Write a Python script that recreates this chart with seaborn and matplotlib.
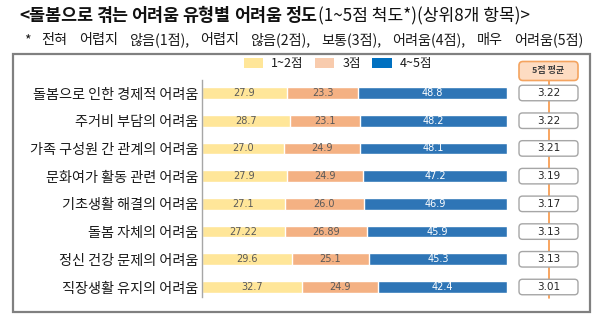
import matplotlib
matplotlib.use("Agg")
import matplotlib.pyplot as plt
from matplotlib.patches import Rectangle, FancyBboxPatch, Patch
import pandas as pd
import seaborn as sns

sns.set_theme(style="white")
plt.rcParams["font.family"] = ["Noto Sans CJK KR", "DejaVu Sans"]

# 돌봄 어려움 유형 (상위 8개)
categories = [
    "돌봄으로 인한 경제적 어려움",
    "주거비 부담의 어려움",
    "가족 구성원 간 관계의 어려움",
    "문화여가 활동 관련 어려움",
    "기초생활 해결의 어려움",
    "돌봄 자체의 어려움",
    "정신 건강 문제의 어려움",
    "직장생활 유지의 어려움",
]
# 응답 비율(%)
score_1_2 = ["27.9", "28.7", "27.0", "27.9", "27.1", "27.22", "29.6", "32.7"]
score_3 = ["23.3", "23.1", "24.9", "24.9", "26.0", "26.89", "25.1", "24.9"]
score_4_5 = ["48.8", "48.2", "48.1", "47.2", "46.9", "45.9", "45.3", "42.4"]
# 5점 평균
mean_score = [3.22, 3.22, 3.21, 3.19, 3.17, 3.13, 3.13, 3.01]

segment_names = ["1~2점", "3점", "4~5점"]
segment_colors = ["#FFE699", "#F4B183", "#2E75B6"]
legend_colors = ["#FFE699", "#F8CBAD", "#0070C0"]
text_colors = ["#595959", "#595959", "white"]

segments = [score_1_2, score_3, score_4_5]

title_main = "<돌봄으로 겪는 어려움 유형별 어려움 정도"
title_tail = "(1~5점 척도*)(상위8개 항목)>"
note = "* 전혀 어렵지 않음(1점), 어렵지 않음(2점), 보통(3점), 어려움(4점), 매우 어려움(5점)"

W, H = 600, 324
fig = plt.figure(figsize=(W / 100, H / 100), dpi=100)
renderer = fig.canvas.get_renderer()


def fx(px):
    return px / W


def fy(py):
    return 1 - py / H


def spread_words(text, x0, x1, y, **kw):
    """Lay the words of a line out between x0 and x1 (px) with equal gaps."""
    words = text.split(" ")
    items = [fig.text(0, fy(y), w, va="center", ha="left", **kw) for w in words]
    widths = [t.get_window_extent(renderer).width for t in items]
    gap = (x1 - x0 - sum(widths)) / max(len(words) - 1, 1)
    x = x0
    for t, w in zip(items, widths):
        t.set_x(fx(x))
        x += w + gap
    return x - gap


title_end = spread_words(title_main, 19, 317, 16, fontsize=12.5, fontweight="bold",
                         color="#111111")
fig.text(fx(title_end + 1), fy(16.5), title_tail, fontsize=12.3, color="#111111",
         va="center", ha="left")
spread_words(note, 24, 583, 40, fontsize=10.2, color="#1a1a1a")

# outer frame
fig.patches.append(Rectangle((fx(13), fy(312)), fx(590 - 13), (312 - 54) / H,
                             transform=fig.transFigure, fill=False,
                             edgecolor="#808080", linewidth=1.6))

# stacked bar axes
row_top, row_bottom = 93, 287
step = (row_bottom - row_top) / 7
ax_top = row_top - step / 2
ax_bot = row_bottom + step / 2
ax = fig.add_axes([fx(202), fy(ax_bot), fx(507 - 202), (ax_bot - ax_top) / H])

rows = []
for i, cat in enumerate(categories):
    cum = 0.0
    for name, seg in zip(segment_names, segments):
        v = float(seg[i])
        rows.append({"category": cat, "segment": name, "start": cum,
                     "end": cum + v, "value": seg[i]})
        cum += v
df = pd.DataFrame(rows)

# draw the widest (cumulative) segment first so shorter ones sit on top
for name, color in reversed(list(zip(segment_names, segment_colors))):
    sub = df[df["segment"] == name]
    sns.barplot(data=sub, x="end", y="category", order=categories, color=color,
                orient="h", width=0.42, edgecolor="white", linewidth=1.0,
                saturation=1, ax=ax)

for i, r in df.iterrows():
    yi = categories.index(r["category"])
    k = segment_names.index(r["segment"])
    ax.text((r["start"] + r["end"]) / 2, yi, r["value"], ha="center", va="center",
            fontsize=7, color=text_colors[k], family=["DejaVu Sans"])

ax.set_xlim(0, 100)
ax.set_ylim(len(categories) - 0.5, -0.5)
ax.set_xlabel("")
ax.set_ylabel("")
ax.set_xticks([])
for s in ["top", "right", "bottom"]:
    ax.spines[s].set_visible(False)
ax.spines["left"].set_color("#A6A6A6")
ax.spines["left"].set_linewidth(1.0)
ax.spines["left"].set_bounds(-0.48, 7.35)
ax.tick_params(axis="y", length=0, pad=2.5, labelsize=10.2, labelcolor="#1a1a1a")
ax.set_facecolor("none")

handles = [Patch(facecolor=c, edgecolor="none") for c in legend_colors]
fig.legend(handles, segment_names, loc="center", bbox_to_anchor=(fx(338), fy(64)),
           ncol=3, frameon=False, fontsize=9, handlelength=1.55, handleheight=0.8,
           handletextpad=0.65, columnspacing=0.9, borderpad=0, labelcolor="#1a1a1a")

# mean score column
mx = fig.add_axes([fx(519), fy(ax_bot), fx(578 - 519), (ax_bot - ax_top) / H],
                  sharey=ax)
mx.set_xlim(0, 1)
mx.axis("off")
px_x = 1 / 59
px_y = 1 / step
aspect = px_y / px_x
mx.plot([0.5, 0.5], [-(row_top - 80) / step, 7.4], color="#F79646",
        linewidth=1.2, zorder=1, clip_on=False)
box_h = 15.5 * px_y
for i, m in enumerate(mean_score):
    mx.add_patch(FancyBboxPatch((0, i - box_h / 2), 1, box_h,
                                boxstyle=f"round,pad=0,rounding_size={3.5 * px_x}",
                                mutation_aspect=aspect, facecolor="white",
                                edgecolor="#A6A6A6", linewidth=1.0, zorder=2,
                                clip_on=False))
    mx.text(0.5, i, f"{m:.2f}", ha="center", va="center", fontsize=7.5,
            color="#262626", zorder=3, family=["DejaVu Sans"])

hdr_c = -(row_top - 71) / step
hdr_h = 19 * px_y
mx.add_patch(FancyBboxPatch((0, hdr_c - hdr_h / 2), 1, hdr_h,
                            boxstyle=f"round,pad=0,rounding_size={4 * px_x}",
                            mutation_aspect=aspect, facecolor="#FDDCC2",
                            edgecolor="#F4A460", linewidth=1.2, zorder=2,
                            clip_on=False))
mx.text(0.5, hdr_c, "5점 평균", ha="center", va="center", fontsize=6.5,
        fontweight="bold", color="#404040", zorder=3)

fig.savefig("out.png", dpi=100)
